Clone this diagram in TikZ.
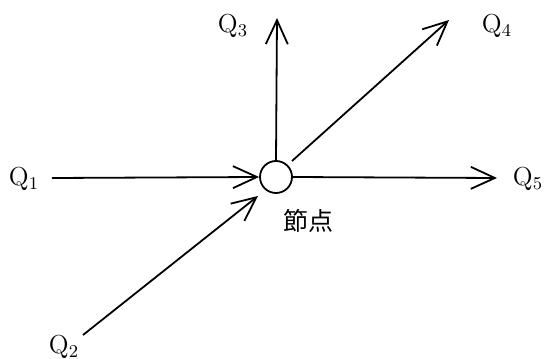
\documentclass[tikz,border=0pt]{standalone}
\usepackage{fontspec}
\newfontfamily\cjk{Noto Sans CJK JP}
\usetikzlibrary{arrows.meta}
\begin{document}
\begin{tikzpicture}[x=0.5pt,y=-0.5pt,
  arr/.style={draw, line width=0.9pt, -{Straight Barb[length=12pt,width=11pt,line width=0.9pt]}},
  lab/.style={font=\fontsize{13}{15}\selectfont, inner sep=0pt},
  nodecirc/.style={circle, draw, line width=0.9pt, minimum size=16pt, inner sep=0pt}]
\useasboundingbox (0,0) rectangle (545,358);
\node[nodecirc] (c) at (276,177) {};
\node[lab] (q1) at (24,179) {$\mathrm{Q}_1$};
\node[lab] (q2) at (64,347) {$\mathrm{Q}_2$};
\node[lab] (q3) at (233,26) {$\mathrm{Q}_3$};
\node[lab] (q4) at (497,26) {$\mathrm{Q}_4$};
\node[lab] (q5) at (528,179) {$\mathrm{Q}_5$};
\node[inner sep=0pt, font=\cjk\fontsize{12.5}{14}\selectfont] (jd) at (308,221) {節点};
\coordinate (a1) at (52,178);
\coordinate (a2) at (83,335);
\coordinate (t2) at (258,196);
\coordinate (t3) at (277,18);
\coordinate (a4) at (292,161);
\coordinate (t4) at (449,20);
\coordinate (t5) at (497,178);
\draw[arr] (a1) -- (c.west);
\draw[arr] (a2) -- (t2);
\draw[arr] (c.north) -- (t3);
\draw[arr] (a4) -- (t4);
\draw[arr] (c.east) -- (t5);
\end{tikzpicture}
\end{document}
